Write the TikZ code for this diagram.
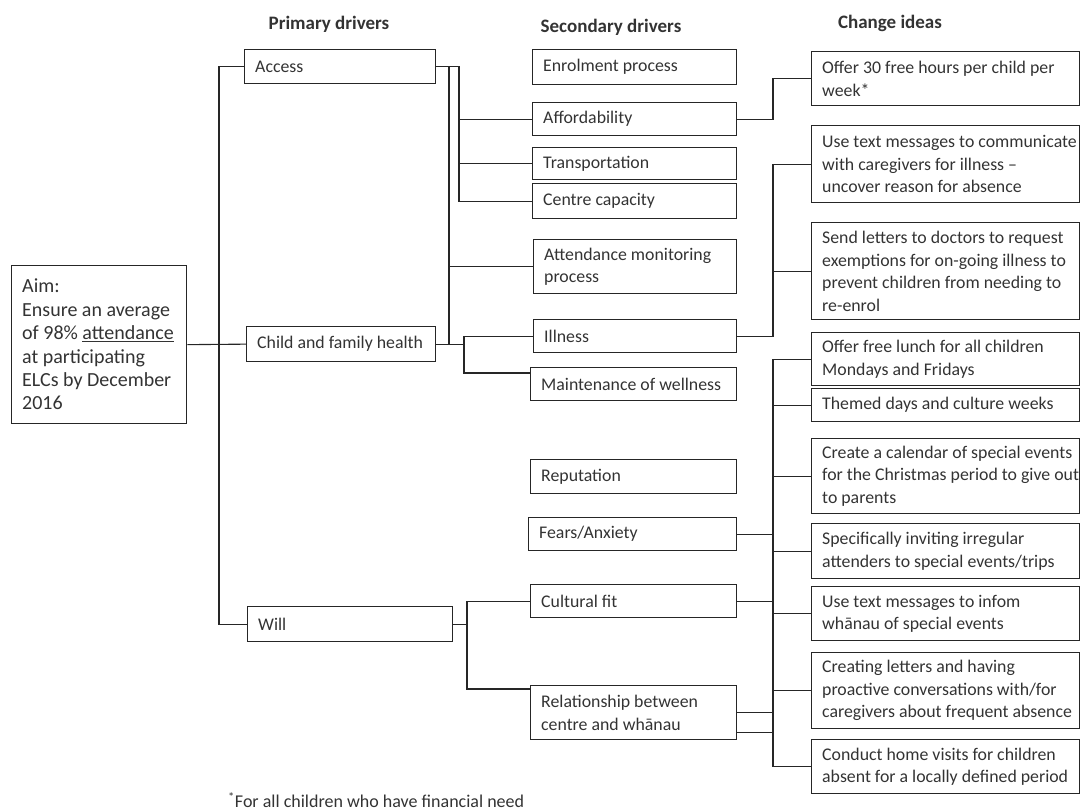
\documentclass[tikz,border=0pt]{standalone}
\usepackage{fontspec}
\setmainfont{Carlito}
\definecolor{ink}{HTML}{262626}
\definecolor{txt}{HTML}{333333}
\tikzset{
  box/.style={draw=ink, line width=1.3pt, anchor=north west, inner sep=0pt},
  lbl/.style={anchor=west, align=left, inner sep=0pt, text=txt,
    font=\fontsize{17.8}{22.5}\selectfont},
  conn/.style={draw=ink, line width=1.1pt},
  head/.style={text=txt, font=\fontsize{19}{22}\selectfont\bfseries},
}
\newcommand\drvbox[6]{%
  \node[box, minimum width={(#4)-(#2)}, minimum height={(#5)-(#3)}] (#1) at (#2,#3) {};
  \node[lbl] (#1-t) at ([xshift=11pt]#1.west) {#6};}
\begin{document}
\begin{tikzpicture}[x=1pt,y=-1pt]
\useasboundingbox (0,0) rectangle (1081,810);
% headers
\node[head] (h1) at (329,24) {Primary drivers};
\node[head] (h2) at (611,27) {Secondary drivers};
\node[head] (h3) at (890,23) {Change ideas};
% aim
\node[box, minimum width=175, minimum height=158] (aim) at (11,265) {};
\node[lbl, font=\fontsize{20}{23.4}\selectfont] (aim-t) at ([xshift=11pt]aim.west)
  {Aim:\\Ensure an average\\of 98\% \underline{attendance}\\at participating\\ELCs by December\\2016};
% primary drivers
\drvbox{access}{244}{49}{435}{83}{Access}
\drvbox{child}{246}{326}{435}{361}{Child and family health}
\drvbox{will}{247}{606}{452}{641}{Will}
% secondary drivers
\drvbox{enrol}{532}{49}{736}{84}{Enrolment process}
\drvbox{afford}{532}{102}{736}{135}{Affordability}
\drvbox{transport}{532}{147}{736}{179}{Transportation}
\drvbox{centre}{532}{183}{736}{218}{Centre capacity}
\drvbox{attend}{533}{239}{736}{293}{Attendance monitoring\\process}
\drvbox{illness}{533}{319}{736}{352}{Illness}
\drvbox{maint}{530}{367}{736}{400}{Maintenance of wellness}
\drvbox{reput}{530}{459}{736}{493}{Reputation}
\drvbox{fears}{528}{517}{736}{550}{Fears/Anxiety}
\drvbox{cultural}{530}{584}{736}{617}{Cultural fit}
\drvbox{relation}{530}{685}{736}{739}{Relationship between\\centre and whānau}
% change ideas
\drvbox{offer}{811}{51}{1079}{105}{Offer 30 free hours per child per\\week*}
\drvbox{text1}{811}{125}{1079}{202}{Use text messages to communicate\\with caregivers for illness –\\uncover reason for absence}
\drvbox{letters}{811}{222}{1079}{319}{Send letters to doctors to request\\exemptions for on-going illness to\\prevent children from needing to\\re-enrol}
\drvbox{lunch}{811}{332}{1079}{385}{Offer free lunch for all children\\Mondays and Fridays}
\drvbox{themed}{811}{388}{1079}{421}{Themed days and culture weeks}
\drvbox{calendar}{811}{438}{1079}{513}{Create a calendar of special events\\for the Christmas period to give out\\to parents}
\drvbox{inviting}{811}{523}{1079}{578}{Specifically inviting irregular\\attenders to special events/trips}
\drvbox{text2}{811}{586}{1079}{640}{Use text messages to infom\\whānau of special events}
\drvbox{creating}{811}{652}{1079}{728}{Creating letters and having\\proactive conversations with/for\\caregivers about frequent absence}
\drvbox{visits}{811}{739}{1079}{793}{Conduct home visits for children\\absent for a locally defined period}
% footnote
\node[text=txt, anchor=west, inner sep=0pt, font=\fontsize{18}{20}\selectfont] (note) at (228,800)
  {\textsuperscript{*}For all children who have financial need};
% x positions of the branch lines
\coordinate (xt) at (219,0);
\coordinate (xa) at (459,0);
\coordinate (xb) at (449,0);
\coordinate (xc) at (464,0);
\coordinate (xw) at (467,0);
\coordinate (xr) at (773,0);
% aim to primary drivers
\draw[conn] (aim.east) -- (child.west);
\draw[conn] (access.west) -| (xt |- will.west) -- (will.west);
% access
\draw[conn] (access.east) -| (xa |- centre.west) -- (centre.west);
\draw[conn] (xa |- afford.west) -- (afford.west);
\draw[conn] (xa |- transport.west) -- (transport.west);
\draw[conn] (xb |- access.east) -- (xb |- child.east);
\draw[conn] (xb |- attend.west) -- (attend.west);
% child and family health
\coordinate (mt) at ([yshift=-6pt]maint.north west);
\draw[conn] (child.east) -- (xc |- child.east);
\draw[conn] (illness.west) -| (xc |- mt) -- (mt);
% will
\coordinate (rt) at ([yshift=-4pt]relation.north west);
\draw[conn] (will.east) -- (xw |- will.east);
\draw[conn] (cultural.west) -| (xw |- rt) -- (rt);
% secondary to change ideas
\draw[conn] (afford.east) -| (xr |- offer.west) -- (offer.west);
\draw[conn] (illness.east) -| (xr |- text1.west) -- (text1.west);
\draw[conn] (xr |- letters.west) -- (letters.west);
\draw[conn] (lunch.west) -| (xr |- visits.west) -- (visits.west);
\draw[conn] (xr |- themed.west) -- (themed.west);
\draw[conn] (xr |- calendar.west) -- (calendar.west);
\draw[conn] (xr |- inviting.west) -- (inviting.west);
\draw[conn] (xr |- text2.west) -- (text2.west);
\draw[conn] (xr |- creating.west) -- (creating.west);
\draw[conn] (fears.east) -- (xr |- fears.east);
\draw[conn] (cultural.east) -- (xr |- cultural.east);
\draw[conn] (relation.east) -- (xr |- relation.east);
\coordinate (rb) at ([yshift=-20pt]relation.east);
\draw[conn] (rb) -- (xr |- rb);
\end{tikzpicture}
\end{document}
